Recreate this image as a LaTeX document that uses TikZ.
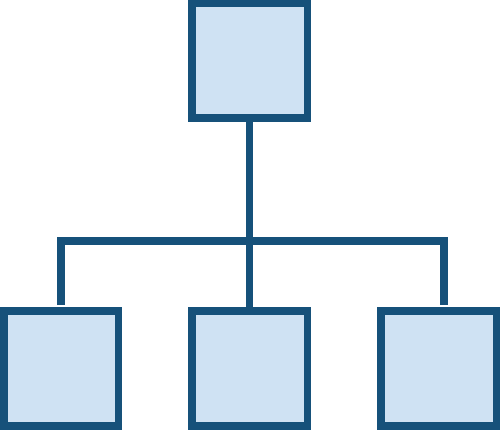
\documentclass[tikz,border=0pt]{standalone}
\definecolor{dk}{RGB}{22,81,122}
\definecolor{lt}{RGB}{207,226,243}
\begin{document}
\begin{tikzpicture}[x=1pt,y=-1pt,
  box/.style={draw=dk, fill=lt, line width=7.5pt, minimum width=115.5pt, minimum height=115pt, inner sep=0pt},
  link/.style={draw=dk, line width=7.5pt, line join=miter}]
\useasboundingbox (0,0) rectangle (500,430);
\node[box, minimum height=114.5pt] (top) at (249.5,61) {};
\node[box, minimum width=114.5pt] (left) at (61,368.5) {};
\node[box] (mid) at (249.5,368.5) {};
\node[box] (right) at (438.5,368.5) {};
\coordinate (jm) at (249.5,241);
\coordinate (el) at (61,305);
\coordinate (er) at (444,305);
\draw[link] (top.south) -- (mid.north);
\draw[link] (el) |- (jm) -| (er);
\end{tikzpicture}
\end{document}
